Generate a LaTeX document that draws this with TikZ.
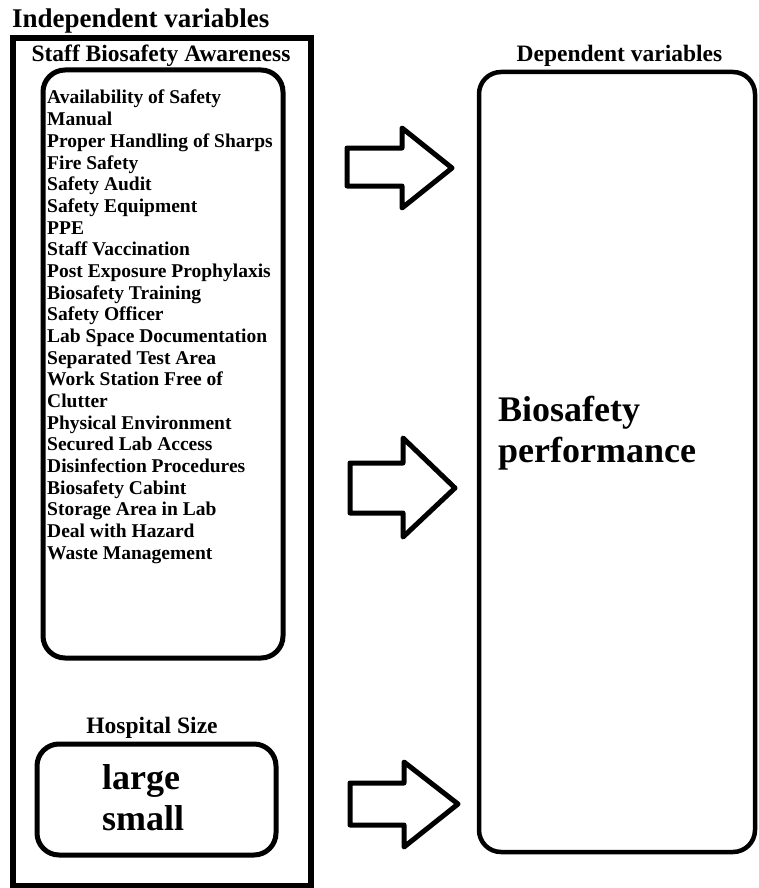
\documentclass[tikz,border=0pt]{standalone}
\usepackage{fontspec}
\setmainfont{Liberation Serif}
\begin{document}
\begin{tikzpicture}[x=1pt,y=-1pt,
  heading/.style={inner sep=0pt, font=\bfseries\fontsize{23.5}{26}\selectfont},
  listitem/.style={inner sep=0pt, anchor=base west, font=\bfseries\fontsize{19.5}{21}\selectfont},
  bigtext/.style={inner sep=0pt, anchor=base west, font=\bfseries\fontsize{36}{40}\selectfont},
  frame/.style={draw, line width=5.5pt, inner sep=0pt},
  roundbox/.style={draw, line width=5pt, inner sep=0pt, rounded corners=22pt},
  blockarrow/.style={draw, line width=5pt, line join=round}]
\useasboundingbox (0,0) rectangle (758,888);
% titles
\node[inner sep=0pt, anchor=base west, font=\bfseries\fontsize{27}{30}\selectfont] (indep) at (12,28) {Independent variables};
\node[heading, anchor=base] (staff) at (161,62) {Staff Biosafety Awareness};
\node[heading, anchor=base] (dep) at (619.5,62) {Dependent variables};
\node[heading, anchor=base] (hsize) at (152,733) {Hospital Size};
% boxes
\node[frame, minimum width=298pt, minimum height=847.5pt] (outer) at (162,461.75) {};
\node[roundbox, minimum width=240pt, minimum height=588pt] (awbox) at (163,364) {};
\node[roundbox, minimum width=239pt, minimum height=111pt] (hbox) at (156.5,799.5) {};
\node[roundbox, line width=4.5pt, minimum width=276pt, minimum height=780pt] (perfbox) at (617,462) {};
% list
\foreach [count=\i] \t in {Availability of Safety, Manual, Proper Handling of Sharps, Fire Safety, Safety Audit, Safety Equipment, PPE, Staff Vaccination, Post Exposure Prophylaxis, Biosafety Training, Safety Officer, Lab Space Documentation, Separated Test Area, Work Station Free of, Clutter, Physical Environment, Secured Lab Access, Disinfection Procedures, Biosafety Cabint, Storage Area in Lab, Deal with Hazard, Waste Management}
  \node[listitem] (item\i) at (47,{104+21.667*(\i-1)}) {\t};
% hospital sizes
\node[bigtext] (large) at (102,789) {large};
\node[bigtext] (small) at (102,830) {small};
% dependent variable
\node[bigtext] (bio) at (498,421) {Biosafety};
\node[bigtext] (perf) at (498,462) {performance};
% block arrows
\draw[blockarrow] (347,148) -- (402,148) -- (402,128) -- (452,168) -- (402,208) -- (402,186) -- (347,186) -- cycle;
\draw[blockarrow] (350,463) -- (403,463) -- (403,438) -- (455,488) -- (403,537) -- (403,513) -- (350,513) -- cycle;
\draw[blockarrow] (350,783) -- (404,783) -- (404,762) -- (458,804) -- (404,847) -- (404,825) -- (350,825) -- cycle;
\end{tikzpicture}
\end{document}
